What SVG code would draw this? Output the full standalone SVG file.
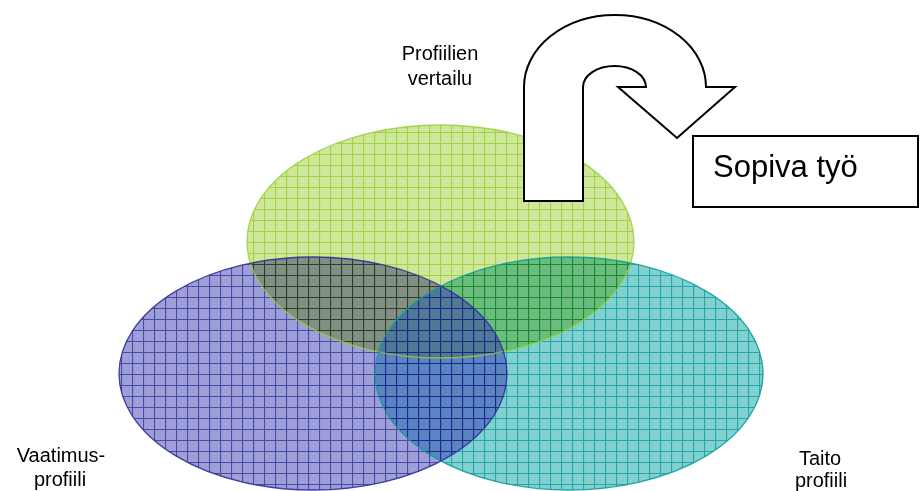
<svg xmlns="http://www.w3.org/2000/svg" width="920" height="491" viewBox="0 0 920 491">
<style>
.lbl{font-family:"Liberation Sans",Arial,sans-serif;font-size:20px;fill:#000;text-anchor:middle}
.big{font-family:"Liberation Sans",Arial,sans-serif;font-size:31px;fill:#000}
.mul{mix-blend-mode:multiply}
.edge{fill:none;stroke-width:1.3}
.shape{fill:#fff;stroke:#000;stroke-width:2}
</style>
<defs>
<pattern id="pg" patternUnits="userSpaceOnUse" width="11" height="11">
<rect width="11" height="11" fill="#cfe79a"/>
<path d="M0 0.5H11M0.5 0V11" stroke="#a2d246" stroke-width="1.2"/>
</pattern>
<pattern id="pb" patternUnits="userSpaceOnUse" width="11" height="11">
<rect width="11" height="11" fill="#9f9fd8"/>
<path d="M0 0.5H11M0.5 0V11" stroke="#4a4aa8" stroke-width="1.2"/>
</pattern>
<pattern id="pba" patternUnits="userSpaceOnUse" width="11" height="11">
<rect width="11" height="11" fill="#3333ad" fill-opacity="0.49"/>
<path d="M0 0.5H11M0.5 0V11" stroke="#14148c" stroke-opacity="0.75" stroke-width="1.2"/>
</pattern>
<pattern id="pt" patternUnits="userSpaceOnUse" width="11" height="11">
<rect width="11" height="11" fill="#82d1d1"/>
<path d="M0 0.5H11M0.5 0V11" stroke="#26a6a6" stroke-width="1.2"/>
</pattern>
<clipPath id="outTeal">
<path clip-rule="evenodd" d="M0,0H920V491H0Z M375,373.5 A194,116.5 0 1 0 763,373.5 A194,116.5 0 1 0 375,373.5Z"/>
</clipPath>
<clipPath id="inTeal">
<ellipse cx="569" cy="373.5" rx="194" ry="116.5"/>
</clipPath>
</defs>
<rect width="920" height="491" fill="#fff"/>
<g id="vertailu-ellipse">
<ellipse cx="440.5" cy="241.5" rx="193.5" ry="116.5" fill="url(#pg)"/>
</g>
<g id="taito-ellipse">
<ellipse class="mul" cx="569" cy="373.5" rx="194" ry="116.5" fill="url(#pt)"/>
</g>
<g id="vaatimus-ellipse">
<ellipse class="mul" clip-path="url(#outTeal)" cx="313" cy="373.5" rx="194" ry="116.5" fill="url(#pb)"/>
<ellipse clip-path="url(#inTeal)" cx="313" cy="373.5" rx="194" ry="116.5" fill="url(#pba)"/>
</g>
<g id="edges">
<ellipse class="edge" cx="440.5" cy="241.5" rx="193.5" ry="116.5" stroke="#9acd32" stroke-opacity="0.8"/>
<ellipse class="edge" cx="569" cy="373.5" rx="194" ry="116.5" stroke="#0a9a9a" stroke-opacity="0.85"/>
<ellipse class="edge" cx="313" cy="373.5" rx="194" ry="116.5" stroke="#30309a" stroke-opacity="0.9"/>
</g>
<g id="connectors">
<path id="u-arrow" class="shape" d="M524,201 L524,87 A91,72 0 0 1 706,87 L735,87 L677,138 L618,87 L646,87 A31.5,21 0 0 0 583,87 L583,201 Z"/>
</g>
<g id="sopiva-tyo">
<rect class="shape" x="693" y="136" width="225" height="71"/>
<text class="big" x="713" y="177">Sopiva työ</text>
</g>
<g id="label-vertailu">
<text class="lbl" x="440" y="60">Profiilien</text>
<text class="lbl" x="440" y="85">vertailu</text>
</g>
<g id="label-vaatimus">
<text class="lbl" x="61" y="462">Vaatimus-</text>
<text class="lbl" x="60" y="486">profiili</text>
</g>
<g id="label-taito">
<text class="lbl" x="820" y="465">Taito</text>
<text class="lbl" x="821" y="487">profiili</text>
</g>
</svg>
